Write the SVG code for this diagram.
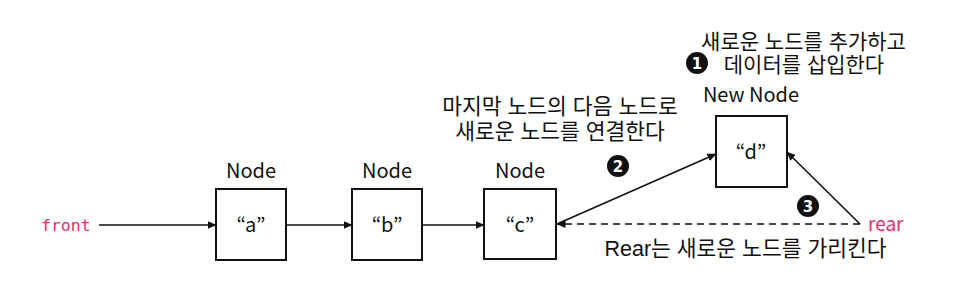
<svg xmlns="http://www.w3.org/2000/svg" width="968" height="296" viewBox="0 0 968 296">
<style>
.t{font-family:"Noto Sans CJK KR","Noto Sans",sans-serif;font-size:20px;fill:#111;text-anchor:middle}
.k{font-family:"Liberation Sans","Noto Sans CJK KR",sans-serif;font-size:21.5px;fill:#111;text-anchor:middle}
.box{fill:#fff;stroke:#111;stroke-width:2}
.ln{stroke:#111;stroke-width:1.6;fill:none}
.dash{stroke-dasharray:7 5}
.num{fill:#111}
.nt{font-family:"DejaVu Sans",sans-serif;font-size:15px;font-weight:bold;fill:#fff;text-anchor:middle}
.ptr{fill:#e0306b}
</style>
<defs>
<marker id="ah" markerWidth="9" markerHeight="8" refX="8.5" refY="4" orient="auto" markerUnits="userSpaceOnUse">
<path d="M0,0 L9,4 L0,8 z" fill="#111"/>
</marker>
</defs>
<rect width="968" height="296" fill="#fff"/>
<g id="connectors">
<line class="ln" x1="99" y1="225" x2="216" y2="225" marker-end="url(#ah)"/>
<line class="ln" x1="287" y1="225" x2="352" y2="225" marker-end="url(#ah)"/>
<line class="ln" x1="423" y1="225" x2="484" y2="225" marker-end="url(#ah)"/>
<line class="ln" x1="557" y1="224" x2="716" y2="154" marker-end="url(#ah)"/>
<line class="ln dash" x1="860" y1="224" x2="557" y2="224" marker-end="url(#ah)"/>
<line class="ln" x1="860" y1="224" x2="787" y2="152" marker-end="url(#ah)"/>
</g>
<g id="front"><text x="41" y="231" font-family="'DejaVu Sans Mono','Liberation Mono',monospace" font-size="16.5" class="ptr">front</text></g>
<g id="rear"><text x="868" y="231" font-family="'Noto Sans CJK KR','Noto Sans',sans-serif" font-size="19" class="ptr">rear</text></g>
<g id="nodeA">
<text class="t" x="251" y="178">Node</text>
<rect class="box" x="216" y="189" width="70" height="71"/>
<text class="t" x="251" y="232">“a”</text>
</g>
<g id="nodeB">
<text class="t" x="387" y="178">Node</text>
<rect class="box" x="352" y="189" width="70" height="71"/>
<text class="t" x="387" y="232">“b”</text>
</g>
<g id="nodeC">
<text class="t" x="520" y="178">Node</text>
<rect class="box" x="484" y="189" width="72" height="70"/>
<text class="t" x="520" y="232">“c”</text>
</g>
<g id="nodeD">
<text class="t" x="751" y="102">New Node</text>
<rect class="box" x="716" y="116" width="71" height="71"/>
<text class="t" x="751" y="159">“d”</text>
</g>
<g id="step1">
<circle class="num" cx="697" cy="63" r="11"/>
<text class="nt" x="697" y="68.5">1</text>
<text class="k" style="font-size:21px"><tspan x="803.5" y="48.5">새로운 노드를 추가하고</tspan><tspan x="804" y="72">데이터를 삽입한다</tspan></text>
</g>
<g id="step2">
<circle class="num" cx="618" cy="166" r="11"/>
<text class="nt" x="618" y="171.5">2</text>
<text class="k"><tspan x="560" y="114">마지막 노드의 다음 노드로</tspan><tspan x="560" y="139">새로운 노드를 연결한다</tspan></text>
</g>
<g id="step3">
<circle class="num" cx="808" cy="206" r="11"/>
<text class="nt" x="808" y="211.5">3</text>
<text class="k" x="745.5" y="256">Rear는 새로운 노드를 가리킨다</text>
</g>
</svg>
